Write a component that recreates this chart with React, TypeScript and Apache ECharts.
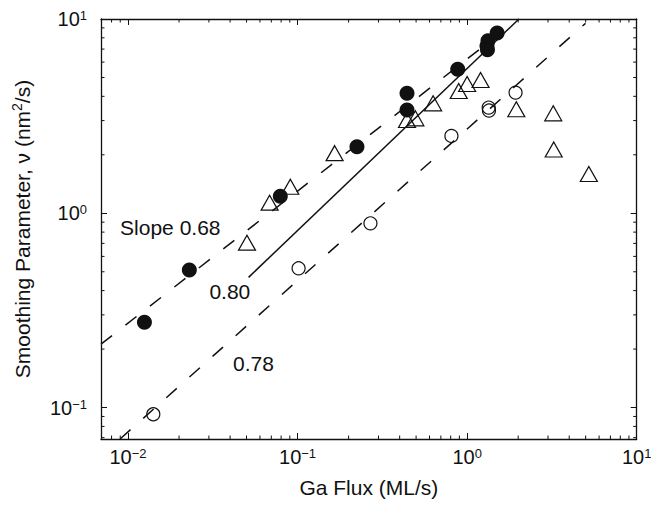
import React, { useEffect, useRef } from "react";
import * as echarts from "echarts";

// ---- data ----
const filledX = [0.0125, 0.0230, 0.0791, 0.224, 0.442, 0.442, 0.880, 1.503, 1.327, 1.309, 1.318];
const filledY = [0.275, 0.511, 1.225, 2.20, 3.40, 4.15, 5.51, 8.47, 7.72, 7.27, 6.94];

const openX = [0.0141, 0.1014, 0.269, 0.808, 1.34, 1.345, 1.93];
const openY = [0.0924, 0.521, 0.888, 2.50, 3.50, 3.38, 4.18];

const triX = [0.0503, 0.0684, 0.0906, 0.1654, 0.442, 0.495, 0.630, 0.892, 1.0, 1.20, 1.95, 3.22, 3.24, 5.22];
const triY = [0.706, 1.134, 1.37, 2.04, 3.02, 3.08, 3.68, 4.26, 4.63, 4.85, 3.43, 3.27, 2.13, 1.593];

// fit lines (end points)
const fit068X = [0.00693, 2.01];
const fit068Y = [0.212, 10];
const fit080X = [0.0514, 2.02];
const fit080Y = [0.468, 10];
const fit078X = [0.00898, 4.99];
const fit078Y = [0.0689, 9.5];

// annotations
const annoText = ["Slope 0.68", "0.80", "0.78"];
const annoX = [0.00898, 0.0302, 0.0416];
const annoY = [0.845, 0.396, 0.169];

// axes
const X_MIN = 0.00693;
const X_MAX = 10;
const Y_MIN = 0.0689;
const Y_MAX = 10;
const xMinorTicks = [0.008, 0.009, 0.02, 0.03, 0.04, 0.05, 0.06, 0.07, 0.08, 0.09, 0.2, 0.3, 0.4, 0.5, 0.6, 0.7, 0.8, 0.9, 2, 3, 4, 5, 6, 7, 8, 9];
const yMinorTicks = [0.07, 0.08, 0.09, 0.2, 0.3, 0.4, 0.5, 0.6, 0.7, 0.8, 0.9, 2, 3, 4, 5, 6, 7, 8, 9];
const xTitle = "Ga Flux (ML/s)";
const yTitleParts = ["Smoothing Parameter, ν (nm", "2", "/s)"];

const FONT = "'Liberation Sans', Arial, Helvetica, sans-serif";
const INK = "#111";

const pairs = (xs: number[], ys: number[]) => xs.map((x, i) => [x, ys[i]]);

function powLabel(v: number) {
  const l = Math.log10(v);
  const e = Math.round(l);
  if (Math.abs(l - e) > 0.01) return "";
  const s = e < 0 ? "\u2212" + -e : String(e);
  return `{b|10}{s|${s}}`;
}

const labelRich = {
  b: { fontSize: 20, lineHeight: 20, fontFamily: FONT, color: INK, verticalAlign: "bottom", padding: [9, 0, 0, 0] },
  s: { fontSize: 13, lineHeight: 13, fontFamily: FONT, color: INK, verticalAlign: "bottom", padding: [0, 0, 7, 0] },
};

const axisLineStyle = { color: INK, width: 1.3 };

export default function App() {
  const ref = useRef<HTMLDivElement>(null);
  useEffect(() => {
    if (!ref.current) return;
    const chart = echarts.init(ref.current, null, { renderer: "svg" });

    const minorX = (params: any, api: any) => {
      const v = api.value(0);
      const b = api.coord([v, Y_MIN]);
      const t = api.coord([v, Y_MAX]);
      const st = { stroke: INK, lineWidth: 1 };
      return {
        type: "group",
        children: [
          { type: "line", shape: { x1: b[0], y1: b[1], x2: b[0], y2: b[1] - 3.5 }, style: st },
          { type: "line", shape: { x1: t[0], y1: t[1], x2: t[0], y2: t[1] + 3.5 }, style: st },
        ],
      };
    };
    const minorY = (params: any, api: any) => {
      const v = api.value(1);
      const l = api.coord([X_MIN, v]);
      const r = api.coord([X_MAX, v]);
      const st = { stroke: INK, lineWidth: 1 };
      return {
        type: "group",
        children: [
          { type: "line", shape: { x1: l[0], y1: l[1], x2: l[0] + 3.5, y2: l[1] }, style: st },
          { type: "line", shape: { x1: r[0], y1: r[1], x2: r[0] - 3.5, y2: r[1] }, style: st },
        ],
      };
    };

    const markerStyle = { color: "rgba(0,0,0,0)", borderColor: INK, borderWidth: 1.2, opacity: 1 };
    const fitLine = (xs: number[], ys: number[], dashed: boolean) => ({
      type: "line",
      data: pairs(xs, ys),
      showSymbol: false,
      symbol: "none",
      silent: true,
      z: 4,
      lineStyle: { color: INK, width: 1.5, opacity: 1, type: dashed ? [14, 17] : "solid" },
    });

    chart.setOption({
      animation: false,
      backgroundColor: "#fff",
      textStyle: { fontFamily: FONT },
      grid: { left: 101, right: 14.3, top: 19, bottom: 74, containLabel: false, outerBoundsMode: "none" },
      xAxis: [
        {
          type: "log",
          logBase: 10,
          min: X_MIN,
          max: X_MAX,
          position: "bottom",
          axisLine: { show: true, onZero: false, lineStyle: axisLineStyle },
          axisTick: { show: true, inside: true, length: 6, lineStyle: { color: INK, width: 1 } },
          axisLabel: { show: true, margin: 8, formatter: powLabel, rich: labelRich, hideOverlap: false },
          splitLine: { show: false },
          minorTick: { show: false },
          name: xTitle,
          nameLocation: "middle",
          nameGap: 38,
          nameTextStyle: { fontSize: 21, fontFamily: FONT, color: INK },
        },
        {
          type: "log",
          logBase: 10,
          min: X_MIN,
          max: X_MAX,
          position: "top",
          axisLine: { show: true, onZero: false, lineStyle: axisLineStyle },
          axisTick: { show: true, inside: true, length: 6, lineStyle: { color: INK, width: 1 } },
          axisLabel: { show: false },
          splitLine: { show: false },
        },
      ],
      yAxis: [
        {
          type: "log",
          logBase: 10,
          min: Y_MIN,
          max: Y_MAX,
          position: "left",
          axisLine: { show: true, onZero: false, lineStyle: axisLineStyle },
          axisTick: { show: true, inside: true, length: 6, lineStyle: { color: INK, width: 1 } },
          axisLabel: { show: true, margin: 14, formatter: powLabel, rich: labelRich, hideOverlap: false },
          splitLine: { show: false },
          name: `{a|${yTitleParts[0]}}{s|${yTitleParts[1]}}{a|${yTitleParts[2]}}`,
          nameLocation: "middle",
          nameGap: 68,
          nameTextStyle: {
            fontSize: 21,
            fontFamily: FONT,
            color: INK,
            rich: {
              a: { fontSize: 21, lineHeight: 21, fontFamily: FONT, color: INK, verticalAlign: "bottom" },
              s: { fontSize: 14, lineHeight: 14, fontFamily: FONT, color: INK, verticalAlign: "bottom", padding: [0, 0, 9, 0] },
            },
          },
        },
        {
          type: "log",
          logBase: 10,
          min: Y_MIN,
          max: Y_MAX,
          position: "right",
          axisLine: { show: true, onZero: false, lineStyle: axisLineStyle },
          axisTick: { show: true, inside: true, length: 6, lineStyle: { color: INK, width: 1 } },
          axisLabel: { show: false },
          splitLine: { show: false },
        },
      ],
      series: [
        {
          type: "custom",
          name: "xMinor",
          coordinateSystem: "cartesian2d",
          data: xMinorTicks.map((v) => [v, Y_MIN]),
          renderItem: minorX,
          silent: true,
          clip: false,
          z: 5,
        },
        {
          type: "custom",
          name: "yMinor",
          coordinateSystem: "cartesian2d",
          data: yMinorTicks.map((v) => [X_MIN, v]),
          renderItem: minorY,
          silent: true,
          clip: false,
          z: 5,
        },
        {
          type: "scatter",
          name: "filled",
          data: pairs(filledX, filledY),
          symbol: "circle",
          symbolSize: 15,
          itemStyle: { color: INK, opacity: 1 },
          z: 3,
        },
        {
          type: "scatter",
          name: "open",
          data: pairs(openX, openY),
          symbol: "circle",
          symbolSize: 13,
          itemStyle: markerStyle,
          z: 3,
        },
        {
          type: "scatter",
          name: "triangle",
          data: pairs(triX, triY),
          symbol: "triangle",
          symbolSize: [17, 15],
          itemStyle: markerStyle,
          z: 3,
        },
        fitLine(fit068X, fit068Y, true),
        fitLine(fit080X, fit080Y, false),
        fitLine(fit078X, fit078Y, true),
        {
          type: "scatter",
          name: "annotations",
          data: annoText.map((t, i) => ({ name: t, value: [annoX[i], annoY[i]] })),
          symbolSize: 0,
          silent: true,
          itemStyle: { opacity: 1 },
          label: {
            show: true,
            position: "right",
            distance: 0,
            formatter: "{b}",
            fontSize: 21,
            fontFamily: FONT,
            color: INK,
            opacity: 1,
          },
          z: 6,
        },
      ],
    });
    return () => chart.dispose();
  }, []);
  return (
    <div
      ref={ref}
      style={{ position: "fixed", left: 0, top: 0, width: 651, height: 513, background: "#fff" }}
    />
  );
}
